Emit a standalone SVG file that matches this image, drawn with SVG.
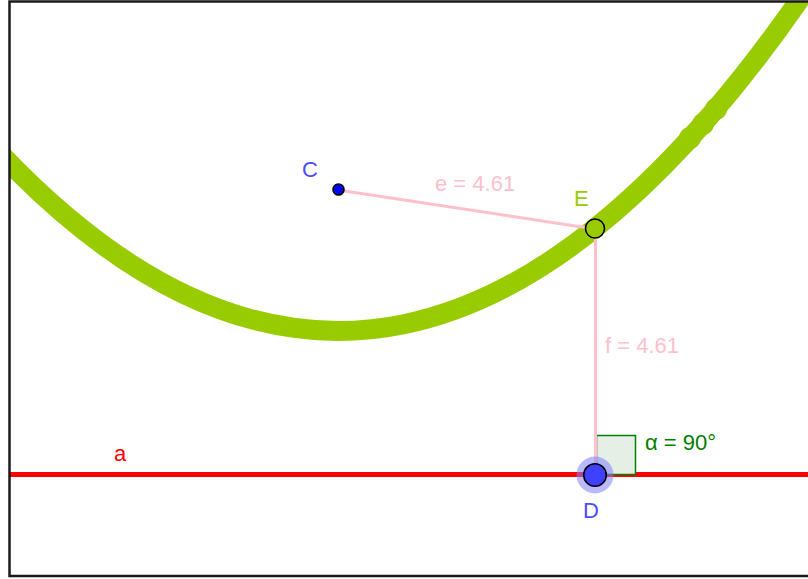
<svg xmlns="http://www.w3.org/2000/svg" width="808" height="579" viewBox="0 0 808 579">
<style>
text{font-family:"Liberation Sans",Arial,sans-serif;font-size:22px}
.seg{stroke:#ffc0cb;stroke-width:3;fill:none}
.pt{stroke:#000;stroke-width:1.6}
</style>
<defs>
<clipPath id="frame"><rect x="10" y="2" width="798" height="574"/></clipPath>
</defs>
<rect width="808" height="579" fill="#fff"/>
<g id="parabola" clip-path="url(#frame)">
<path d="M0 153.3 Q404 578 808 -12.5" fill="none" stroke="#99cc00" stroke-width="20"/>
<circle cx="690" cy="138" r="11" fill="#99cc00"/>
<circle cx="703" cy="124" r="11" fill="#99cc00"/>
<circle cx="716" cy="109" r="11" fill="#99cc00"/>
</g>
<g id="line-a">
<line x1="10" y1="474.5" x2="808" y2="474.5" stroke="#ff0000" stroke-width="5"/>
<text x="114" y="461" fill="#ff0000">a</text>
</g>
<g id="angle">
<rect x="596.5" y="435.5" width="39" height="39" fill="#e5efe5" stroke="#007f00" stroke-width="1.5"/>
<text x="645" y="450" fill="#007f00">α = 90°</text>
</g>
<g id="connectors">
<line class="seg" x1="338" y1="190" x2="595" y2="229"/>
<line class="seg" x1="595.5" y1="229" x2="595.5" y2="474"/>
<text x="435" y="190.5" fill="#ffc0cb">e = 4.61</text>
<text x="605" y="353" fill="#ffc0cb">f = 4.61</text>
</g>
<g id="C">
<circle class="pt" cx="338.5" cy="189.5" r="5.5" fill="#0000ff"/>
<text x="302" y="177" fill="#4d4dff">C</text>
</g>
<g id="E">
<circle class="pt" cx="595" cy="228.5" r="9.5" fill="#99cc00"/>
<text x="574" y="206" fill="#99cc00">E</text>
</g>
<g id="D">
<circle cx="595" cy="475" r="18.5" fill="#8080ff" opacity="0.55"/>
<circle class="pt" cx="595" cy="475" r="11.3" fill="#4040ff"/>
<text x="583" y="518" fill="#4d4dff">D</text>
</g>
<path id="border" d="M808 1.5H9.5V576H808" fill="none" stroke="#1a1a1a" stroke-width="2.5"/>
</svg>
